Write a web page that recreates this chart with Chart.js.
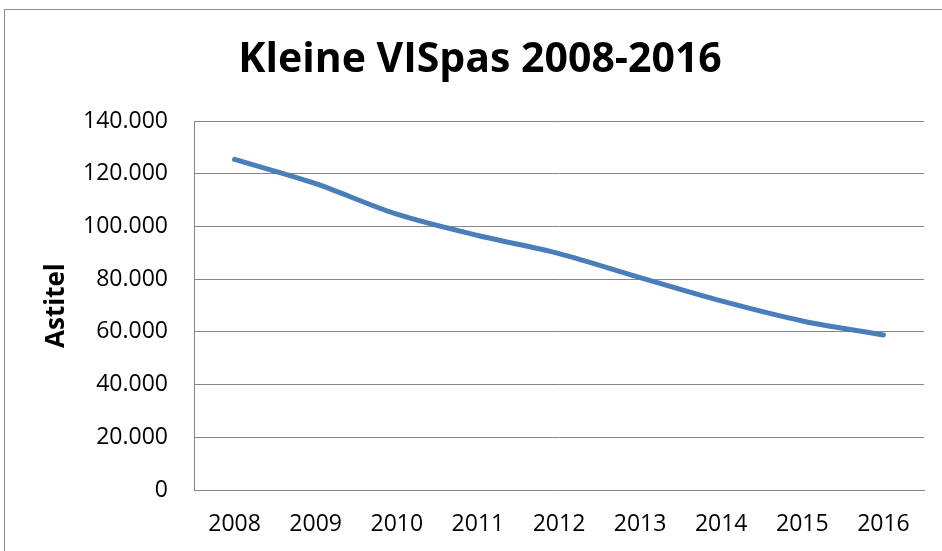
<!DOCTYPE html>
<html>
<head>
<meta charset="utf-8">
<script src="https://cdn.jsdelivr.net/npm/chart.js@4/dist/chart.umd.min.js"></script>
<style>
    html, body { margin: 0; padding: 0; background: #fff; overflow: hidden; }
    #wrap { position: relative; width: 942px; height: 551px; }
    #frame { position: absolute; left: 4px; top: 9px; width: 1000px; height: 1000px; border: 1px solid #8c8c8c; pointer-events: none; }
</style>
</head>
<body>
<div id="wrap">
    <canvas id="chart" width="942" height="551"></canvas>
    <div id="frame"></div>
</div>
<script>
// 데이터
const years = ['2008', '2009', '2010', '2011', '2012', '2013', '2014', '2015', '2016'];
const astitel = [125500, 116300, 104700, 96600, 89750, 80650, 71770, 64180, 58860];
const yTicks = [0, 20000, 40000, 60000, 80000, 100000, 120000, 140000];

Chart.defaults.font.family = '"Open Sans", sans-serif';
Chart.defaults.color = '#000';

const ctx = document.getElementById('chart').getContext('2d');

new Chart(ctx, {
    type: 'line',
    data: {
        labels: years,
        datasets: [{
            label: 'Astitel',
            data: astitel,
            borderColor: '#4a7ebb',
            borderWidth: 5,
            borderCapStyle: 'round',
            borderJoinStyle: 'round',
            fill: false,
            tension: 0.3,
            pointRadius: 0
        }]
    },
    options: {
        responsive: false,
        animation: false,
        layout: {
            padding: { left: 36, right: 18, top: 0, bottom: 0 }
        },
        plugins: {
            legend: { display: false },
            tooltip: { enabled: false },
            title: {
                display: true,
                text: 'Kleine VISpas 2008-2016',
                color: '#000',
                font: { size: 41, weight: 'bold' },
                padding: { top: 36, bottom: 36 } // 제목을 약간 아래로
            }
        },
        scales: {
            x: {
                offset: true,
                grid: { display: false, drawTicks: false },
                border: { display: true, color: '#868686', width: 1 },
                ticks: {
                    font: { size: 23 },
                    padding: 21,
                    maxRotation: 0,
                    autoSkip: false
                },
                afterFit: function(axis) {
                    axis.height = 61;
                }
            },
            y: {
                min: 0,
                max: 140000,
                afterBuildTicks: function(axis) {
                    axis.ticks = yTicks.map(v => ({ value: v }));
                },
                grid: { color: '#868686', lineWidth: 1, drawTicks: false },
                border: { display: true, color: '#868686', width: 1 },
                ticks: {
                    font: { size: 23 },
                    padding: 26,
                    callback: function(value) {
                        return value.toLocaleString('de-DE');
                    }
                },
                title: {
                    display: true,
                    text: 'Astitel',
                    color: '#000',
                    font: { size: 26, weight: 'bold' },
                    padding: { top: 5, bottom: 0 }
                },
                afterFit: function(axis) {
                    axis.width = 158;
                }
            }
        }
    }
});
</script>
</body>
</html>
